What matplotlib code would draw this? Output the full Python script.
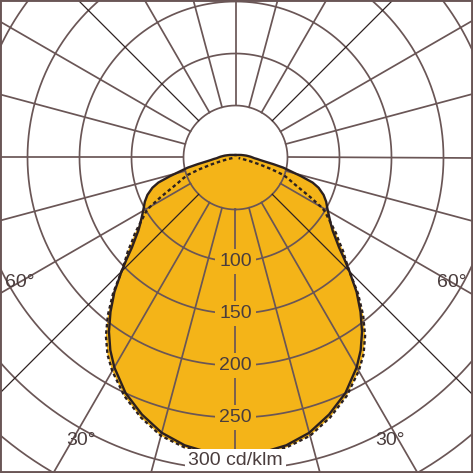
import numpy as np
import matplotlib
matplotlib.use("Agg")
import matplotlib.pyplot as plt
from matplotlib.patches import Rectangle

# ---- data (cd/klm), angle from nadir in degrees, symmetric halves ----
solid_angles = [0, 5, 10, 15, 20, 25, 30, 33, 36, 39, 42, 45, 47, 49, 51, 53, 55, 58, 61,
                64, 67, 70, 72, 74, 76, 78, 80, 82, 84, 86, 88, 90, 93, 96, 100, 105,
                110, 115, 120, 135, 150, 165, 180]
solid_values = [286, 285, 281, 274, 263, 250, 233, 221, 207, 191, 174, 155, 143, 132, 124,
                117, 112, 106, 101, 97, 92, 85, 78, 66, 55, 47, 37, 29, 24, 21, 18, 16.5,
                14.5, 12.5, 10.5, 8.3, 6.8, 5.8, 4.9, 3.5, 2.8, 2.5, 2.4]

dashed_angles = [0, 5, 10, 15, 20, 25, 30, 33, 36, 39, 42, 45, 47, 49, 51, 53, 55, 57, 59,
                 60, 62, 64, 66, 68, 70, 72, 74, 76, 78, 80]
dashed_values = [287, 286, 283, 277, 266, 253, 237, 226, 212, 195, 176, 155, 145, 137, 128,
                 121, 113, 106, 100, 95, 82, 70, 61, 55, 49, 36, 24, 14, 7, 3]

ring_values = [50, 100, 150, 200, 250, 300, 350]
ring_labels = ["100", "150", "200", "250"]
ring_label_values = [100, 150, 200, 250]
unit_label = "300 cd/klm"
angle_labels = ["60°", "60°", "30°", "30°"]
angle_label_theta = [-60, 60, -28.7, 28.7]
angle_label_r = [240, 240, 310, 310]
spoke_angles = list(range(0, 360, 15))

FILL = "#F4B418"
GRID = "#6a5656"
DIAG = "#2e2222"
DARK = "#2b2020"
TEXT = "#4a3d3d"

plt.rcParams['font.family'] = ['Liberation Sans', 'DejaVu Sans']

W = 473
fig = plt.figure(figsize=(W / 100, W / 100), dpi=100)
cx, cy = 235.5 / W, 1 - 157.5 / W
S = 1.04
RMAX = 400
w = 2 * RMAX * S / W
ax = fig.add_axes([cx - w / 2, cy - w / 2, w, w], projection='polar')
ax.set_theta_zero_location('S')
ax.set_ylim(0, RMAX)
ax.set_axis_off()


def mirror(angles, values):
    a = np.array(angles, dtype=float)
    v = np.array(values, dtype=float)
    th = np.concatenate([-a[::-1], a[1:]])
    r = np.concatenate([v[::-1], v[1:]])
    return np.deg2rad(th), r


ts, rs = mirror(solid_angles, solid_values)
td, rd = mirror(dashed_angles, dashed_values)

ax.fill(ts, rs, color=FILL, zorder=1, lw=0)
ax.fill(td, rd, color=FILL, zorder=1, lw=0)

circ = np.linspace(0, 2 * np.pi, 721)
for rv in ring_values:
    ax.plot(circ, np.full_like(circ, rv), color=GRID, lw=1.25, zorder=2)
for a in spoke_angles:
    if a % 90 == 45:
        ax.plot([np.deg2rad(a)] * 2, [50, RMAX], color=DIAG, lw=0.9, zorder=2)
    else:
        ax.plot([np.deg2rad(a)] * 2, [50, RMAX], color=GRID, lw=1.25, zorder=2)

ax.plot(ts, rs, color=DARK, lw=1.7, zorder=3)
ax.plot(td, rd, color=DARK, lw=1.7, ls=(0, (1.5, 1.2)), zorder=3)

for lab, rv in zip(ring_labels, ring_label_values):
    ax.text(0, rv, lab, ha='center', va='center', fontsize=14, color=TEXT, zorder=4,
            bbox=dict(boxstyle='square,pad=0.2', fc=FILL, ec='none'))
ax.text(0, 291, unit_label, ha='center', va='center', fontsize=14, color=TEXT, zorder=4,
        bbox=dict(boxstyle='square,pad=0.15', fc='white', ec='none'))
for lab, th, rv in zip(angle_labels, angle_label_theta, angle_label_r):
    ax.text(np.deg2rad(th), rv, lab, ha='center', va='center', fontsize=14, color=TEXT, zorder=4)

fig.add_artist(Rectangle((0, 0), 1, 1, transform=fig.transFigure, fill=False,
                         edgecolor=GRID, linewidth=2.8))
fig.savefig("out.png", dpi=100, facecolor='white')
